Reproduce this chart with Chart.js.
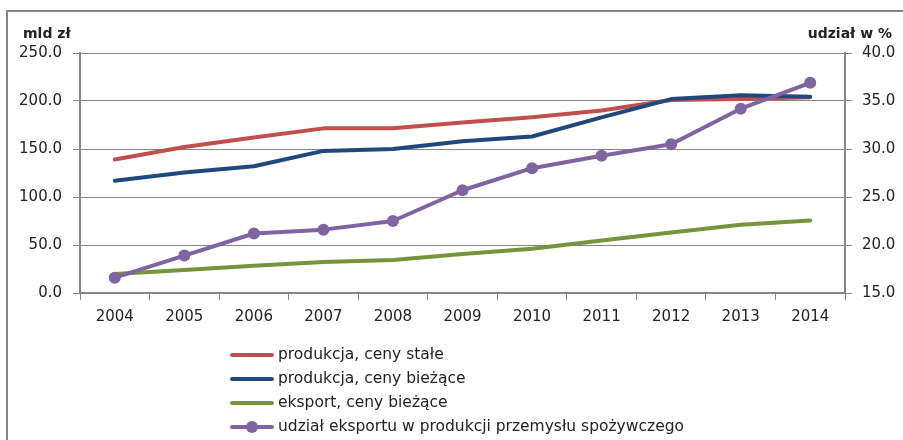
<!DOCTYPE html>
<html>
<head>
<meta charset="utf-8">
<script src="https://cdn.jsdelivr.net/npm/chart.js@4/dist/chart.umd.min.js"></script>
<style>
  body { margin: 0; background: #fff; }
  #chart { display: block; }
</style>
</head>
<body>
<canvas id="chart" width="903" height="440"></canvas>
<script>
const years = ["2004", "2005", "2006", "2007", "2008", "2009", "2010", "2011", "2012", "2013", "2014"];
const prodStale = [139, 152, 162, 171.5, 171.5, 177.5, 183, 190, 201, 202, 204];
const prodBiezace = [117, 125.5, 132, 148, 150, 158, 163, 183, 202, 206, 204.5];
const eksport = [19.8, 24, 28.4, 32.3, 34.3, 40.6, 46, 54.8, 63, 71, 75.6];
const udzial = [16.6, 18.9, 21.2, 21.6, 22.5, 25.7, 28, 29.3, 30.5, 34.2, 36.9];

const leftTicks = [0, 50, 100, 150, 200, 250];
const rightTicks = [15, 20, 25, 30, 35, 40];

const gray = "#868686";
const textColor = "#222";
const font = { family: "DejaVu Sans", size: 15 };

// frame, axis titles and the legend under the plot
const extras = {
  id: "extras",
  beforeDraw(chart) {
    const c = chart.ctx;
    c.save();
    c.strokeStyle = gray;
    c.lineWidth = 2;
    c.beginPath();
    c.moveTo(7, 440);
    c.lineTo(7, 11);
    c.lineTo(903, 11);
    c.stroke();
    c.restore();
  },
  afterDraw(chart) {
    const c = chart.ctx;
    c.save();
    c.fillStyle = textColor;
    c.font = "bold 14px 'DejaVu Sans'";
    c.textBaseline = "middle";
    c.textAlign = "left";
    c.fillText("mld zł", 23, 34);
    c.textAlign = "right";
    c.fillText("udział w %", 892, 34);

    const rows = [355, 379, 403, 427];
    chart.data.datasets.forEach((ds, i) => {
      const y = rows[i];
      c.strokeStyle = ds.borderColor;
      c.lineWidth = 4;
      c.lineCap = "round";
      c.beginPath();
      c.moveTo(232, y);
      c.lineTo(272, y);
      c.stroke();
      if (ds.pointRadius > 0) {
        c.fillStyle = ds.borderColor;
        c.beginPath();
        c.arc(252, y, 6, 0, Math.PI * 2);
        c.fill();
      }
      c.fillStyle = textColor;
      c.font = "15.5px 'DejaVu Sans'";
      c.textAlign = "left";
      c.fillText(ds.label, 278, y);
    });
    c.restore();
  }
};

function lineSet(label, data, color, axis, order, radius) {
  return {
    label: label,
    data: data,
    borderColor: color,
    backgroundColor: color,
    borderWidth: 4,
    borderCapStyle: "round",
    borderJoinStyle: "round",
    pointRadius: radius,
    pointHoverRadius: radius,
    pointBorderWidth: 0,
    tension: 0,
    yAxisID: axis,
    order: order
  };
}

new Chart(document.getElementById("chart"), {
  type: "line",
  data: {
    labels: years,
    datasets: [
      lineSet("produkcja, ceny stałe", prodStale, "#C0504D", "y", 4, 0),
      lineSet("produkcja, ceny bieżące", prodBiezace, "#1F497D", "y", 3, 0),
      lineSet("eksport, ceny bieżące", eksport, "#77933C", "y", 2, 0),
      lineSet("udział eksportu w produkcji przemysłu spożywczego", udzial, "#8064A2", "y1", 1, 6)
    ]
  },
  options: {
    responsive: false,
    animation: false,
    layout: { padding: { top: 53, left: 0, right: 0, bottom: 0 } },
    plugins: {
      legend: { display: false },
      tooltip: { enabled: false }
    },
    scales: {
      x: {
        offset: true,
        grid: { offset: true, drawOnChartArea: false, color: gray, tickLength: 7 },
        border: { color: gray, width: 2 },
        ticks: { color: textColor, font: font, padding: 8, maxRotation: 0 },
        afterFit(scale) { scale.height = 147; }
      },
      y: {
        position: "left",
        min: 0,
        max: 250,
        afterBuildTicks(scale) { scale.ticks = leftTicks.map(v => ({ value: v })); },
        grid: { color: gray, lineWidth: 1, tickLength: 7 },
        border: { color: gray, width: 2 },
        ticks: { color: textColor, font: font, padding: 11, callback: v => v.toFixed(1) },
        afterFit(scale) { scale.width = 80; }
      },
      y1: {
        position: "right",
        min: 15,
        max: 40,
        afterBuildTicks(scale) { scale.ticks = rightTicks.map(v => ({ value: v })); },
        grid: { drawOnChartArea: false, color: gray, tickLength: 7 },
        border: { color: gray, width: 2 },
        ticks: { color: textColor, font: font, padding: 10, callback: v => v.toFixed(1) },
        afterFit(scale) { scale.width = 58; }
      }
    }
  },
  plugins: [extras]
});
</script>
</body>
</html>
